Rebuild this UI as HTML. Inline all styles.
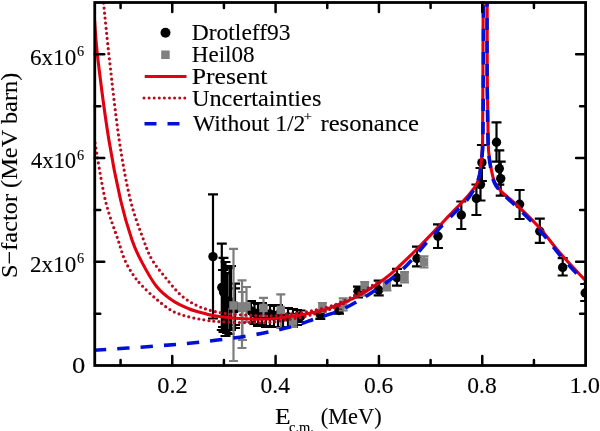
<!DOCTYPE html>
<html><head><meta charset="utf-8"><style>
html,body{margin:0;padding:0;background:#fff;width:600px;height:431px;overflow:hidden}
svg{display:block;will-change:transform}
</style></head><body>
<svg width="600" height="431" viewBox="0 0 600 431">
<defs><clipPath id="c"><rect x="94.75" y="2.50" width="490.85" height="363.00"/></clipPath></defs>
<g clip-path="url(#c)">
<path d="M213.00,194.30V318.50 M208.00,194.30h10.00 M208.00,318.50h10.00 M221.80,243.70V330.00 M216.80,243.70h10.00 M216.80,330.00h10.00 M223.50,257.80V332.00 M218.50,257.80h10.00 M218.50,332.00h10.00 M229.50,268.20V334.00 M224.50,268.20h10.00 M224.50,334.00h10.00 M227.00,273.10V333.00 M222.00,273.10h10.00 M222.00,333.00h10.00 M231.00,266.00V330.00 M226.00,266.00h10.00 M226.00,330.00h10.00 M235.00,283.60V325.00 M230.00,283.60h10.00 M230.00,325.00h10.00 M235.00,288.40V328.00 M230.00,288.40h10.00 M230.00,328.00h10.00 M251.00,301.00V322.00 M246.00,301.00h10.00 M246.00,322.00h10.00 M254.50,303.00V324.00 M249.50,303.00h10.00 M249.50,324.00h10.00 M258.00,304.00V326.00 M253.00,304.00h10.00 M253.00,326.00h10.00 M262.00,303.00V325.00 M257.00,303.00h10.00 M257.00,325.00h10.00 M266.00,305.00V327.00 M261.00,305.00h10.00 M261.00,327.00h10.00 M270.00,305.00V326.00 M265.00,305.00h10.00 M265.00,326.00h10.00 M274.00,306.00V327.00 M269.00,306.00h10.00 M269.00,327.00h10.00 M278.00,305.00V327.00 M273.00,305.00h10.00 M273.00,327.00h10.00 M283.00,308.00V328.00 M278.00,308.00h10.00 M278.00,328.00h10.00 M288.00,308.00V327.00 M283.00,308.00h10.00 M283.00,327.00h10.00 M293.00,309.00V327.00 M288.00,309.00h10.00 M288.00,327.00h10.00 M297.00,310.00V325.00 M292.00,310.00h10.00 M292.00,325.00h10.00 M300.50,310.50V322.00 M295.50,310.50h10.00 M295.50,322.00h10.00 M320.30,310.50V318.90 M315.30,310.50h10.00 M315.30,318.90h10.00 M339.00,305.30V313.70 M334.00,305.30h10.00 M334.00,313.70h10.00 M358.00,286.70V297.50 M353.00,286.70h10.00 M353.00,297.50h10.00 M378.70,280.70V295.30 M373.70,280.70h10.00 M373.70,295.30h10.00 M397.00,268.90V285.60 M392.00,268.90h10.00 M392.00,285.60h10.00 M417.00,246.60V266.40 M412.00,246.60h10.00 M412.00,266.40h10.00 M438.00,224.40V248.00 M433.00,224.40h10.00 M433.00,248.00h10.00 M461.30,201.50V229.00 M456.30,201.50h10.00 M456.30,229.00h10.00 M476.40,184.50V215.00 M471.40,184.50h10.00 M471.40,215.00h10.00 M480.50,168.00V200.50 M475.50,168.00h10.00 M475.50,200.50h10.00 M481.90,145.00V181.00 M476.90,145.00h10.00 M476.90,181.00h10.00 M496.50,122.40V161.60 M491.50,122.40h10.00 M491.50,161.60h10.00 M499.30,150.40V184.60 M494.30,150.40h10.00 M494.30,184.60h10.00 M500.70,161.60V195.70 M495.70,161.60h10.00 M495.70,195.70h10.00 M519.60,190.00V219.00 M514.60,190.00h10.00 M514.60,219.00h10.00 M539.80,218.70V242.90 M534.80,218.70h10.00 M534.80,242.90h10.00 M562.70,258.20V275.50 M557.70,258.20h10.00 M557.70,275.50h10.00 M585.20,284.00V301.00 M580.20,284.00h10.00 M580.20,301.00h10.00 M225.50,262.00V336.00 M220.50,262.00h10.00 M220.50,336.00h10.00 M223.00,270.00V327.00 M218.00,270.00h10.00 M218.00,327.00h10.00" stroke="#000" stroke-width="2.20" fill="none"/>
<circle cx="213.00" cy="256.60" r="4.7" fill="#000"/>
<circle cx="221.80" cy="287.50" r="4.7" fill="#000"/>
<circle cx="223.50" cy="292.00" r="4.7" fill="#000"/>
<circle cx="229.50" cy="301.00" r="4.7" fill="#000"/>
<circle cx="227.00" cy="303.00" r="4.7" fill="#000"/>
<circle cx="231.00" cy="304.00" r="4.7" fill="#000"/>
<circle cx="235.00" cy="306.00" r="4.7" fill="#000"/>
<circle cx="235.00" cy="309.00" r="4.7" fill="#000"/>
<circle cx="251.00" cy="311.00" r="4.7" fill="#000"/>
<circle cx="254.50" cy="313.00" r="4.7" fill="#000"/>
<circle cx="258.00" cy="314.00" r="4.7" fill="#000"/>
<circle cx="262.00" cy="313.00" r="4.7" fill="#000"/>
<circle cx="266.00" cy="315.00" r="4.7" fill="#000"/>
<circle cx="270.00" cy="314.00" r="4.7" fill="#000"/>
<circle cx="274.00" cy="316.00" r="4.7" fill="#000"/>
<circle cx="278.00" cy="315.00" r="4.7" fill="#000"/>
<circle cx="283.00" cy="317.00" r="4.7" fill="#000"/>
<circle cx="288.00" cy="317.00" r="4.7" fill="#000"/>
<circle cx="293.00" cy="318.00" r="4.7" fill="#000"/>
<circle cx="297.00" cy="317.00" r="4.7" fill="#000"/>
<circle cx="300.50" cy="316.70" r="4.7" fill="#000"/>
<circle cx="320.30" cy="314.70" r="4.7" fill="#000"/>
<circle cx="339.00" cy="310.50" r="4.7" fill="#000"/>
<circle cx="358.00" cy="291.30" r="4.7" fill="#000"/>
<circle cx="378.70" cy="290.00" r="4.7" fill="#000"/>
<circle cx="397.00" cy="277.70" r="4.7" fill="#000"/>
<circle cx="417.00" cy="258.50" r="4.7" fill="#000"/>
<circle cx="438.00" cy="236.20" r="4.7" fill="#000"/>
<circle cx="461.30" cy="215.00" r="4.7" fill="#000"/>
<circle cx="476.40" cy="198.50" r="4.7" fill="#000"/>
<circle cx="480.50" cy="184.60" r="4.7" fill="#000"/>
<circle cx="481.90" cy="162.60" r="4.7" fill="#000"/>
<circle cx="496.50" cy="142.20" r="4.7" fill="#000"/>
<circle cx="499.30" cy="168.60" r="4.7" fill="#000"/>
<circle cx="500.70" cy="178.60" r="4.7" fill="#000"/>
<circle cx="519.60" cy="204.30" r="4.7" fill="#000"/>
<circle cx="539.80" cy="231.20" r="4.7" fill="#000"/>
<circle cx="562.70" cy="267.40" r="4.7" fill="#000"/>
<circle cx="585.20" cy="293.00" r="4.7" fill="#000"/>
<path d="M233.50,248.90V361.00 M229.00,248.90h9.00 M229.00,361.00h9.00 M242.00,280.30V348.00 M237.50,280.30h9.00 M237.50,348.00h9.00 M242.50,292.00V340.00 M238.00,292.00h9.00 M238.00,340.00h9.00 M246.50,287.00V322.00 M242.00,287.00h9.00 M242.00,322.00h9.00 M263.50,297.90V316.00 M259.00,297.90h9.00 M259.00,316.00h9.00 M280.80,294.30V328.00 M276.30,294.30h9.00 M276.30,328.00h9.00 M293.00,315.00V327.00 M288.50,315.00h9.00 M288.50,327.00h9.00 M322.40,303.00V312.00 M317.90,303.00h9.00 M317.90,312.00h9.00 M343.20,298.40V310.50 M338.70,298.40h9.00 M338.70,310.50h9.00 M364.70,282.00V295.70 M360.20,282.00h9.00 M360.20,295.70h9.00 M386.90,280.50V290.50 M382.40,280.50h9.00 M382.40,290.50h9.00 M404.50,272.20V282.40 M400.00,272.20h9.00 M400.00,282.40h9.00 M424.00,256.40V267.50 M419.50,256.40h9.00 M419.50,267.50h9.00" stroke="#7c7c7c" stroke-width="2.20" fill="none"/>
<rect x="229.25" y="301.25" width="8.5" height="8.5" fill="#808080"/>
<rect x="237.75" y="302.25" width="8.5" height="8.5" fill="#808080"/>
<rect x="238.25" y="303.75" width="8.5" height="8.5" fill="#808080"/>
<rect x="242.25" y="302.25" width="8.5" height="8.5" fill="#808080"/>
<rect x="259.25" y="303.75" width="8.5" height="8.5" fill="#808080"/>
<rect x="276.55" y="305.75" width="8.5" height="8.5" fill="#808080"/>
<rect x="288.75" y="317.25" width="8.5" height="8.5" fill="#808080"/>
<rect x="318.15" y="303.15" width="8.5" height="8.5" fill="#808080"/>
<rect x="338.95" y="300.25" width="8.5" height="8.5" fill="#808080"/>
<rect x="360.45" y="282.75" width="8.5" height="8.5" fill="#808080"/>
<rect x="382.65" y="281.35" width="8.5" height="8.5" fill="#808080"/>
<rect x="400.25" y="273.05" width="8.5" height="8.5" fill="#808080"/>
<rect x="419.75" y="257.75" width="8.5" height="8.5" fill="#808080"/>
<path d="M93.40,7.00 C93.58,9.08 93.73,10.67 94.50,19.50 C95.27,28.33 95.60,39.92 98.00,60.00 C100.40,80.08 105.13,116.67 108.90,140.00 C112.67,163.33 116.75,183.33 120.60,200.00 C124.45,216.67 128.50,229.73 132.00,240.00 C135.50,250.27 137.57,253.93 141.60,261.60 C145.63,269.27 151.05,279.50 156.20,286.00 C161.35,292.50 167.08,296.82 172.50,300.60 C177.92,304.38 183.30,306.53 188.70,308.70 C194.10,310.87 199.77,312.30 204.90,313.60 C210.03,314.90 211.98,315.60 219.50,316.50 C227.02,317.40 240.58,318.67 250.00,319.00 C259.42,319.33 265.00,319.67 276.00,318.50 C287.00,317.33 305.33,314.42 316.00,312.00 C326.67,309.58 332.67,306.83 340.00,304.00 C347.33,301.17 352.50,299.25 360.00,295.00 C367.50,290.75 378.33,283.42 385.00,278.50 C391.67,273.58 394.00,271.08 400.00,265.50 C406.00,259.92 413.50,252.58 421.00,245.00 C428.50,237.42 437.05,228.33 445.00,220.00 C452.95,211.67 463.25,201.37 468.70,195.00 C474.15,188.63 475.73,186.32 477.70,181.80 C479.67,177.28 479.80,172.55 480.50,167.90 C481.20,163.25 481.55,158.55 481.90,153.90 C482.25,149.25 482.43,153.15 482.60,140.00 C482.77,126.85 482.80,99.17 482.90,75.00 C483.00,50.83 483.15,8.33 483.20,-5.00" stroke="#e00010" stroke-width="3.1" fill="none"/>
<path d="M487.20,-5.00 C487.22,8.33 487.13,50.83 487.30,75.00 C487.47,99.17 487.93,126.85 488.20,140.00 C488.47,153.15 488.43,149.25 488.90,153.90 C489.37,158.55 490.07,163.25 491.00,167.90 C491.93,172.55 492.77,177.87 494.50,181.80 C496.23,185.73 499.20,188.95 501.40,191.50 C503.60,194.05 504.60,194.35 507.70,197.10 C510.80,199.85 514.62,202.80 520.00,208.00 C525.38,213.20 533.33,220.80 540.00,228.30 C546.67,235.80 552.33,244.18 560.00,253.00 C567.67,261.82 580.67,275.37 586.00,281.20 C591.33,287.03 591.00,286.87 592.00,288.00" stroke="#e00010" stroke-width="3.1" fill="none"/>
<path d="M103.30,-2.00 C103.40,-0.62 102.87,-4.03 103.90,6.30 C104.93,16.63 106.95,37.72 109.50,60.00 C112.05,82.28 115.72,116.67 119.20,140.00 C122.68,163.33 126.33,183.33 130.40,200.00 C134.47,216.67 139.97,230.00 143.60,240.00 C147.23,250.00 148.73,253.97 152.20,260.00 C155.67,266.03 159.67,270.38 164.40,276.20 C169.13,282.02 175.20,290.02 180.60,294.90 C186.00,299.78 191.40,302.80 196.80,305.50 C202.20,308.20 207.47,309.68 213.00,311.10 C218.53,312.52 223.83,313.30 230.00,314.00 C236.17,314.70 243.33,314.98 250.00,315.30 C256.67,315.62 263.33,316.12 270.00,315.90 C276.67,315.68 283.33,314.78 290.00,314.00 C296.67,313.22 301.67,313.08 310.00,311.20 C318.33,309.32 328.33,307.73 340.00,302.70 C351.67,297.67 373.33,284.62 380.00,281.00" stroke="#b80c1e" stroke-width="3.2" fill="none" stroke-dasharray="0 5.1" stroke-linecap="round"/>
<path d="M92.30,128.00 C92.72,130.25 92.63,129.50 94.80,141.50 C96.97,153.50 101.42,183.58 105.30,200.00 C109.18,216.42 114.85,230.00 118.10,240.00 C121.35,250.00 122.28,254.20 124.80,260.00 C127.32,265.80 130.40,270.60 133.20,274.80 C136.00,279.00 137.77,281.17 141.60,285.20 C145.43,289.23 151.05,294.68 156.20,299.00 C161.35,303.32 167.08,308.13 172.50,311.10 C177.92,314.07 183.30,315.32 188.70,316.80 C194.10,318.28 199.77,319.18 204.90,320.00 C210.03,320.82 211.98,321.25 219.50,321.70 C227.02,322.15 241.58,322.60 250.00,322.70 C258.42,322.80 263.33,322.88 270.00,322.30 C276.67,321.72 283.33,320.38 290.00,319.20 C296.67,318.02 301.67,317.52 310.00,315.20 C318.33,312.88 328.33,310.70 340.00,305.30 C351.67,299.90 373.33,286.55 380.00,282.80" stroke="#b80c1e" stroke-width="3.2" fill="none" stroke-dasharray="0 5.1" stroke-linecap="round"/>
<path d="M94.00,350.20 C103.33,349.58 132.33,347.85 150.00,346.50 C167.67,345.15 183.33,343.93 200.00,342.10 C216.67,340.27 235.00,338.02 250.00,335.50 C265.00,332.98 279.00,329.83 290.00,327.00 C301.00,324.17 307.67,321.25 316.00,318.50 C324.33,315.75 332.00,314.00 340.00,310.50 C348.00,307.00 356.50,302.00 364.00,297.50 C371.50,293.00 379.58,287.33 385.00,283.50 C390.42,279.67 392.73,277.67 396.50,274.50 C400.27,271.33 403.52,268.75 407.60,264.50 C411.68,260.25 416.03,254.67 421.00,249.00 C425.97,243.33 431.77,236.58 437.40,230.50 C443.03,224.42 450.07,217.33 454.80,212.50 C459.53,207.67 462.60,205.33 465.80,201.50 C469.00,197.67 471.97,193.00 474.00,189.50 C476.03,186.00 476.85,184.17 478.00,180.50 C479.15,176.83 480.18,172.08 480.90,167.50 C481.62,162.92 481.97,157.58 482.30,153.00 C482.63,148.42 482.72,153.00 482.90,140.00 C483.08,127.00 483.28,99.17 483.40,75.00 C483.52,50.83 483.57,8.33 483.60,-5.00" stroke="#0010d8" stroke-width="3.6" fill="none" stroke-dasharray="12.3 11"/>
<path d="M487.00,-5.00 C487.02,8.33 486.93,50.83 487.10,75.00 C487.27,99.17 487.73,126.85 488.00,140.00 C488.27,153.15 488.23,149.18 488.70,153.90 C489.17,158.62 489.87,163.53 490.80,168.30 C491.73,173.07 492.57,178.47 494.30,182.50 C496.03,186.53 498.97,189.83 501.20,192.50 C503.43,195.17 504.57,195.58 507.70,198.50 C510.83,201.42 514.62,204.67 520.00,210.00 C525.38,215.33 533.33,222.97 540.00,230.50 C546.67,238.03 552.33,246.35 560.00,255.20 C567.67,264.05 580.67,277.72 586.00,283.60 C591.33,289.48 591.00,289.35 592.00,290.50" stroke="#0010d8" stroke-width="3.6" fill="none" stroke-dasharray="12 11"/>
</g>
<rect x="94.75" y="2.50" width="490.85" height="363.00" fill="none" stroke="#000" stroke-width="2.8"/>
<path d="M120.58,365.50v-5.50 M120.58,2.50v5.50 M172.25,365.50v-9.50 M172.25,2.50v9.50 M223.92,365.50v-5.50 M223.92,2.50v5.50 M275.59,365.50v-9.50 M275.59,2.50v9.50 M327.26,365.50v-5.50 M327.26,2.50v5.50 M378.93,365.50v-9.50 M378.93,2.50v9.50 M430.59,365.50v-5.50 M430.59,2.50v5.50 M482.26,365.50v-9.50 M482.26,2.50v9.50 M533.93,365.50v-5.50 M533.93,2.50v5.50 M94.75,313.64h5.50 M585.60,313.64h-5.50 M94.75,261.79h9.50 M585.60,261.79h-9.50 M94.75,209.93h5.50 M585.60,209.93h-5.50 M94.75,158.07h9.50 M585.60,158.07h-9.50 M94.75,106.21h5.50 M585.60,106.21h-5.50 M94.75,54.36h9.50 M585.60,54.36h-9.50" stroke="#000" stroke-width="2.5" stroke-linecap="round" fill="none"/>
<text x="30.02" y="64.50" font-size="23.5" font-family="Liberation Serif" fill="#000" stroke="#000" stroke-width="0.12" textLength="46.16" lengthAdjust="spacingAndGlyphs">6x10</text>
<text x="77.12" y="55.90" font-size="14.5" font-family="Liberation Serif" fill="#000" stroke="#000" stroke-width="0.12" textLength="7.13" lengthAdjust="spacingAndGlyphs">6</text>
<text x="31.00" y="168.20" font-size="23.5" font-family="Liberation Serif" fill="#000" stroke="#000" stroke-width="0.12" textLength="45.16" lengthAdjust="spacingAndGlyphs">4x10</text>
<text x="77.12" y="159.60" font-size="14.5" font-family="Liberation Serif" fill="#000" stroke="#000" stroke-width="0.12" textLength="7.13" lengthAdjust="spacingAndGlyphs">6</text>
<text x="30.02" y="271.90" font-size="23.5" font-family="Liberation Serif" fill="#000" stroke="#000" stroke-width="0.12" textLength="46.16" lengthAdjust="spacingAndGlyphs">2x10</text>
<text x="77.12" y="263.30" font-size="14.5" font-family="Liberation Serif" fill="#000" stroke="#000" stroke-width="0.12" textLength="7.13" lengthAdjust="spacingAndGlyphs">6</text>
<text x="72.07" y="372.50" font-size="23.5" font-family="Liberation Serif" fill="#000" stroke="#000" stroke-width="0.12" textLength="13.28" lengthAdjust="spacingAndGlyphs">0</text>
<text x="157.22" y="393.40" font-size="23.5" font-family="Liberation Serif" fill="#000" stroke="#000" stroke-width="0.12" textLength="30.46" lengthAdjust="spacingAndGlyphs">0.2</text>
<text x="260.59" y="393.40" font-size="23.5" font-family="Liberation Serif" fill="#000" stroke="#000" stroke-width="0.12" textLength="29.38" lengthAdjust="spacingAndGlyphs">0.4</text>
<text x="363.93" y="393.40" font-size="23.5" font-family="Liberation Serif" fill="#000" stroke="#000" stroke-width="0.12" textLength="29.38" lengthAdjust="spacingAndGlyphs">0.6</text>
<text x="467.26" y="393.40" font-size="23.5" font-family="Liberation Serif" fill="#000" stroke="#000" stroke-width="0.12" textLength="29.38" lengthAdjust="spacingAndGlyphs">0.8</text>
<text x="569.53" y="393.40" font-size="23.5" font-family="Liberation Serif" fill="#000" stroke="#000" stroke-width="0.12" textLength="30.46" lengthAdjust="spacingAndGlyphs">1.0</text>
<text x="275.12" y="424.00" font-size="23.5" font-family="Liberation Serif" fill="#000" stroke="#000" stroke-width="0.12" textLength="15.56" lengthAdjust="spacingAndGlyphs">E</text>
<text x="289.00" y="431.50" font-size="14.5" font-family="Liberation Serif" fill="#000" stroke="#000" stroke-width="0.12" textLength="24.97" lengthAdjust="spacingAndGlyphs">c.m.</text>
<text x="320.80" y="424.00" font-size="23.5" font-family="Liberation Serif" fill="#000" stroke="#000" stroke-width="0.12" textLength="60.81" lengthAdjust="spacingAndGlyphs">(MeV)</text>
<text transform="translate(17.3,276) rotate(-90)" x="-2.07" y="0" font-size="23.5" font-family="Liberation Serif" fill="#000" stroke="#000" stroke-width="0.12" textLength="205.37" lengthAdjust="spacingAndGlyphs">S&#8722;factor (MeV barn)</text>
<circle cx="165.5" cy="32.8" r="5" fill="#000"/>
<rect x="161.2" y="50.5" width="8.5" height="8.5" fill="#808080"/>
<path d="M144.7,76.4H186.5" stroke="#e00010" stroke-width="3"/>
<path d="M144,98H186" stroke="#b80c1e" stroke-width="3" stroke-dasharray="0 5.1" stroke-linecap="round"/>
<path d="M144.5,123.8H190" stroke="#0010d8" stroke-width="3.6" stroke-dasharray="12 11"/>
<text x="191.78" y="40.30" font-size="23" font-family="Liberation Serif" fill="#000" stroke="#000" stroke-width="0.12" textLength="98.81" lengthAdjust="spacingAndGlyphs">Drotleff93</text>
<text x="191.80" y="62.40" font-size="23" font-family="Liberation Serif" fill="#000" stroke="#000" stroke-width="0.12" textLength="62.71" lengthAdjust="spacingAndGlyphs">Heil08</text>
<text x="191.68" y="84.10" font-size="23" font-family="Liberation Serif" fill="#000" stroke="#000" stroke-width="0.12" textLength="75.82" lengthAdjust="spacingAndGlyphs">Present</text>
<text x="191.94" y="105.80" font-size="23" font-family="Liberation Serif" fill="#000" stroke="#000" stroke-width="0.12" textLength="129.41" lengthAdjust="spacingAndGlyphs">Uncertainties</text>
<text x="193.00" y="130.80" font-size="23" font-family="Liberation Serif" fill="#000" stroke="#000" stroke-width="0.12" textLength="112.35" lengthAdjust="spacingAndGlyphs">Without 1/2</text>
<text x="303.80" y="121.30" font-size="12" font-family="Liberation Serif" fill="#000" stroke="#000" stroke-width="0.12" textLength="8.14" lengthAdjust="spacingAndGlyphs">+</text>
<text x="320.43" y="130.80" font-size="23" font-family="Liberation Serif" fill="#000" stroke="#000" stroke-width="0.12" textLength="98.59" lengthAdjust="spacingAndGlyphs">resonance</text>
</svg>
</body></html>
